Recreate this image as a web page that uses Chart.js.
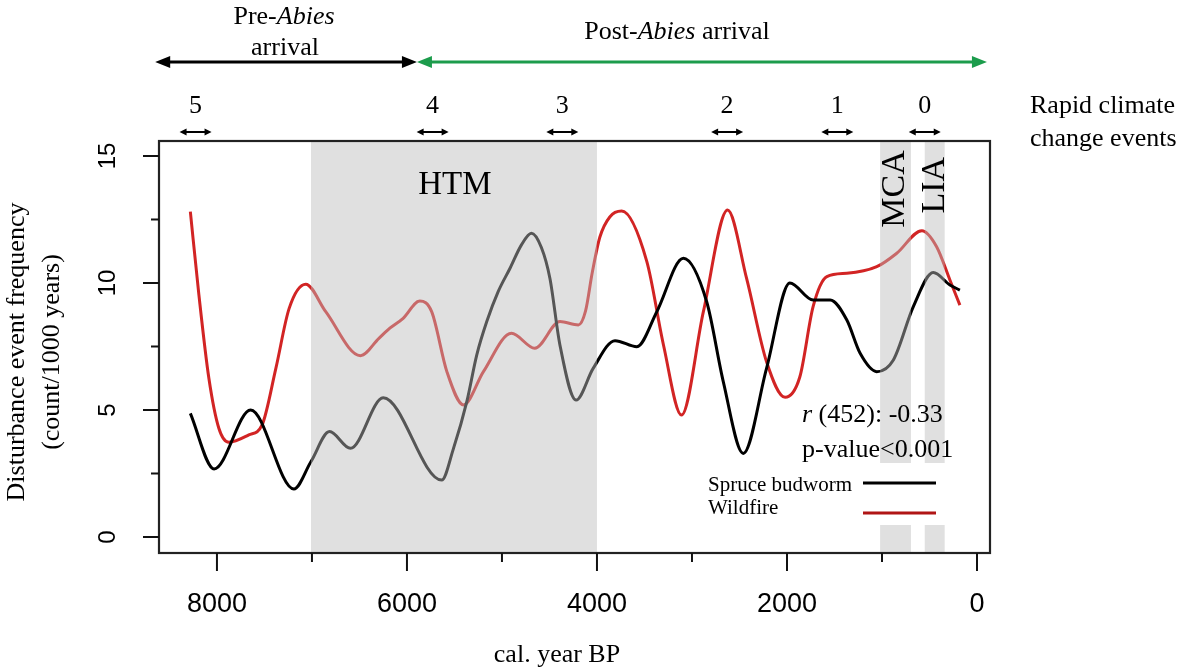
<!DOCTYPE html>
<html>
<head>
<meta charset="utf-8">
<script src="https://cdn.jsdelivr.net/npm/chart.js@4.4.1/dist/chart.umd.min.js"></script>
<style>
  html, body { margin: 0; padding: 0; background: #fff; }
</style>
</head>
<body>
<canvas id="grafico" width="1181" height="668"></canvas>
<script>
// Dados (anos cal. BP, frequência por 1000 anos)
const budwormYears = [8280, 8030, 7645, 7190, 7010, 6815, 6595, 6250, 5635, 5510, 5370, 5265, 5160, 5040, 4915, 4795, 4690, 4585, 4495, 4390, 4220, 4040, 3810, 3580, 3370, 3090, 2845, 2670, 2460, 2215, 1970, 1725, 1545, 1370, 1230, 1055, 880, 670, 460, 285, 180];
const budwormFreq  = [4.87, 2.68, 5.0, 1.89, 2.97, 4.15, 3.49, 5.48, 2.24, 3.49, 5.33, 7.17, 8.48, 9.66, 10.58, 11.5, 11.96, 11.4, 10.18, 7.56, 5.39, 6.64, 7.73, 7.49, 8.87, 10.97, 9.26, 6.11, 3.29, 6.64, 10.0, 9.33, 9.33, 8.54, 7.23, 6.51, 6.97, 9.07, 10.41, 9.92, 9.72];

const fireYears = [8280, 8190, 8085, 7980, 7875, 7665, 7525, 7380, 7240, 7065, 6855, 6490, 6295, 6180, 6040, 5865, 5740, 5580, 5405, 5195, 4900, 4655, 4390, 4196, 4120, 4050, 3970, 3865, 3740, 3475, 3300, 3110, 2880, 2625, 2425, 2215, 2020, 1865, 1725, 1580, 1370, 1055, 845, 580, 425, 285, 180];
const fireFreq  = [12.81, 9.53, 6.25, 4.28, 3.73, 4.02, 4.41, 6.64, 9.0, 9.95, 8.87, 7.14, 7.82, 8.22, 8.61, 9.29, 8.87, 6.51, 5.20, 6.51, 8.02, 7.43, 8.48, 8.35, 8.9, 10.4, 11.8, 12.6, 12.83, 10.84, 7.56, 4.80, 8.87, 12.87, 10.18, 6.90, 5.50, 6.3, 9.07, 10.25, 10.38, 10.64, 11.17, 12.06, 11.43, 10.12, 9.13];

const xTicks = [8000, 6000, 4000, 2000, 0];
const xMinorTicks = [7000, 5000, 3000, 1000];
const yTicks = [0, 5, 10, 15];
const yMinorTicks = [2.5, 7.5, 12.5];

// períodos climáticos (faixas cinzas)
const periodLabels = ['HTM', 'MCA', 'LIA'];
const periodStart  = [7010, 1020, 550];
const periodEnd    = [4000, 695, 340];

// eventos de mudança climática rápida
const rccLabels = ['5', '4', '3', '2', '1', '0'];
const rccYears  = [8225, 5730, 4365, 2630, 1470, 550];

const serif = '"Liberation Serif", "Times New Roman", serif';
const sans = '"Liberation Sans", Arial, sans-serif';

function texto(ctx, str, x, y, font, align, rot) {
    ctx.save();
    ctx.translate(x, y);
    if (rot) ctx.rotate(rot);
    ctx.font = font;
    ctx.textAlign = align || 'center';
    ctx.textBaseline = 'middle';
    ctx.fillStyle = '#000';
    ctx.fillText(str, 0, 0);
    ctx.restore();
}

// texto com partes em itálico
function textoMisto(ctx, parts, x, y, size, align) {
    ctx.save();
    ctx.textBaseline = 'middle';
    ctx.textAlign = 'left';
    ctx.fillStyle = '#000';
    const fonts = parts.map(p => (p[1] ? 'italic ' : '') + size + 'px ' + serif);
    const widths = parts.map((p, i) => { ctx.font = fonts[i]; return ctx.measureText(p[0]).width; });
    const total = widths.reduce((a, b) => a + b, 0);
    let cx = align === 'left' ? x : x - total / 2;
    parts.forEach((p, i) => {
        ctx.font = fonts[i];
        ctx.fillText(p[0], cx, y);
        cx += widths[i];
    });
    ctx.restore();
}

function seta(ctx, a, b, y, color, lw, head, half) {
    const x1 = Math.min(a, b), x2 = Math.max(a, b);
    ctx.save();
    ctx.strokeStyle = color;
    ctx.fillStyle = color;
    ctx.lineWidth = lw;
    ctx.beginPath();
    ctx.moveTo(x1 + head * 0.7, y);
    ctx.lineTo(x2 - head * 0.7, y);
    ctx.stroke();
    ctx.beginPath();
    ctx.moveTo(x1, y); ctx.lineTo(x1 + head, y - half); ctx.lineTo(x1 + head, y + half); ctx.closePath();
    ctx.fill();
    ctx.beginPath();
    ctx.moveTo(x2, y); ctx.lineTo(x2 - head, y - half); ctx.lineTo(x2 - head, y + half); ctx.closePath();
    ctx.fill();
    ctx.restore();
}

const decor = {
    id: 'decor',
    afterDatasetsDraw(chart) {
        const ctx = chart.ctx;
        const area = chart.chartArea;
        const xs = chart.scales.x, ys = chart.scales.y;

        // faixas cinzas semitransparentes por cima das curvas
        ctx.save();
        ctx.fillStyle = 'rgba(187,187,187,0.46)';
        for (let i = 0; i < periodLabels.length; i++) {
            const a = xs.getPixelForValue(periodStart[i]);
            const b = xs.getPixelForValue(periodEnd[i]);
            ctx.fillRect(a, area.top, b - a, area.bottom - area.top);
        }
        ctx.restore();

        // fundo branco da legenda
        ctx.fillStyle = '#fff';
        ctx.fillRect(700, 463, 265, 62);

        // legenda
        texto(ctx, 'Spruce budworm', 708, 485, '21px ' + serif, 'left');
        texto(ctx, 'Wildfire', 708, 508, '21px ' + serif, 'left');
        ctx.save();
        ctx.lineWidth = 3;
        ctx.strokeStyle = '#000';
        ctx.beginPath(); ctx.moveTo(863, 483); ctx.lineTo(936, 483); ctx.stroke();
        ctx.strokeStyle = '#b01515';
        ctx.beginPath(); ctx.moveTo(863, 513); ctx.lineTo(936, 513); ctx.stroke();
        ctx.restore();

        // correlação
        textoMisto(ctx, [['r', true], [' (452): -0.33', false]], 802, 415, 26, 'left');
        texto(ctx, 'p-value<0.001', 802, 450, '26px ' + serif, 'left');

        // rótulos dos períodos
        texto(ctx, 'HTM', xs.getPixelForValue(5495), ys.getPixelForValue(13.86), '33px ' + serif);
        texto(ctx, 'MCA', xs.getPixelForValue(860), ys.getPixelForValue(13.7), '34px ' + serif, 'center', -Math.PI / 2);
        texto(ctx, 'LIA', xs.getPixelForValue(440), ys.getPixelForValue(13.85), '34px ' + serif, 'center', -Math.PI / 2);

        // caixa do gráfico
        ctx.save();
        ctx.strokeStyle = '#222';
        ctx.lineWidth = 2.2;
        ctx.strokeRect(area.left, area.top, area.right - area.left, area.bottom - area.top);

        // marcas do eixo x
        ctx.lineWidth = 2;
        ctx.strokeStyle = '#111';
        xTicks.forEach(v => {
            const px = xs.getPixelForValue(v);
            ctx.beginPath(); ctx.moveTo(px, area.bottom); ctx.lineTo(px, area.bottom + 18); ctx.stroke();
            texto(ctx, String(v), px, 605, '27px ' + sans);
        });
        xMinorTicks.forEach(v => {
            const px = xs.getPixelForValue(v);
            ctx.beginPath(); ctx.moveTo(px, area.bottom); ctx.lineTo(px, area.bottom + 9); ctx.stroke();
        });
        // marcas do eixo y
        yTicks.forEach(v => {
            const py = ys.getPixelForValue(v);
            ctx.beginPath(); ctx.moveTo(area.left, py); ctx.lineTo(area.left - 16, py); ctx.stroke();
            texto(ctx, String(v), 108, py, '24px ' + sans, 'center', -Math.PI / 2);
        });
        yMinorTicks.forEach(v => {
            const py = ys.getPixelForValue(v);
            ctx.beginPath(); ctx.moveTo(area.left, py); ctx.lineTo(area.left - 8, py); ctx.stroke();
        });
        ctx.restore();

        // títulos dos eixos
        texto(ctx, 'cal. year BP', 557, 655, '26px ' + serif);
        texto(ctx, 'Disturbance event frequency', 17, 352, '26px ' + serif, 'center', -Math.PI / 2);
        texto(ctx, '(count/1000 years)', 52, 352, '26px ' + serif, 'center', -Math.PI / 2);

        // anotações superiores
        seta(ctx, xs.getPixelForValue(8650), xs.getPixelForValue(5895), 62, '#000', 3, 15, 6);
        seta(ctx, xs.getPixelForValue(5895), xs.getPixelForValue(-105), 62, '#1c9c4c', 3, 15, 6);
        textoMisto(ctx, [['Pre-', false], ['Abies', true]], 284, 17, 26, 'center');
        texto(ctx, 'arrival', 285, 48, '26px ' + serif);
        textoMisto(ctx, [['Post-', false], ['Abies', true], [' arrival', false]], 677, 32, 26, 'center');

        rccLabels.forEach((lab, i) => {
            const px = xs.getPixelForValue(rccYears[i]);
            texto(ctx, lab, px, 106, '26px ' + serif);
            seta(ctx, px - 16, px + 16, 132, '#000', 2, 7, 3.5);
        });
        texto(ctx, 'Rapid climate', 1030, 106, '26px ' + serif, 'left');
        texto(ctx, 'change events', 1030, 139, '26px ' + serif, 'left');
    }
};

const ctx = document.getElementById('grafico').getContext('2d');

const data = {
    datasets: [{
        label: 'Spruce budworm',
        data: budwormYears.map((yr, i) => ({ x: yr, y: budwormFreq[i] })),
        borderColor: '#000',
        borderWidth: 3
    }, {
        label: 'Wildfire',
        data: fireYears.map((yr, i) => ({ x: yr, y: fireFreq[i] })),
        borderColor: '#d22424',
        borderWidth: 3
    }]
};

const config = {
    type: 'line',
    data,
    options: {
        responsive: false,
        animation: false,
        layout: { padding: { left: 159, right: 191, top: 141, bottom: 115 } },
        elements: {
            point: { radius: 0 },
            line: { cubicInterpolationMode: 'monotone', fill: false }
        },
        plugins: { legend: { display: false }, tooltip: { enabled: false } },
        scales: {
            x: { type: 'linear', reverse: true, min: -137, max: 8610, display: false },
            y: { min: -0.63, max: 15.59, display: false }
        }
    },
    plugins: [decor]
};

const grafico = new Chart(ctx, config);
</script>
</body>
</html>
